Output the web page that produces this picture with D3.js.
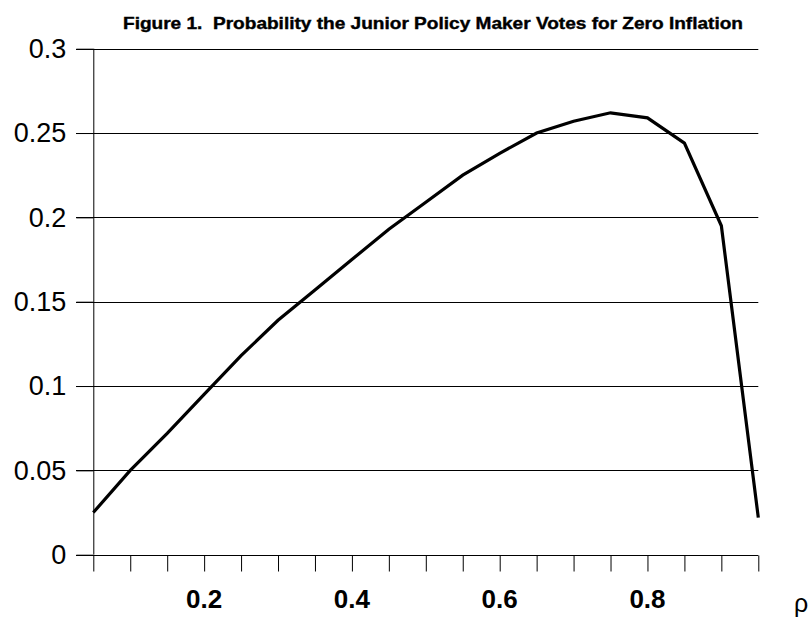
<!DOCTYPE html>
<html>
<head>
<meta charset="utf-8">
<script src="https://cdn.jsdelivr.net/npm/d3@7/dist/d3.min.js"></script>
<style>
  body { margin: 0; background: #fff; }
  svg { display: block; font-family: "Liberation Sans", Arial, sans-serif; }
</style>
</head>
<body>
<div id="container"></div>
<script>
const TITLE = "Figure 1.  Probability the Junior Policy Maker Votes for Zero Inflation";
const rho = [0.05, 0.10, 0.15, 0.20, 0.25, 0.30, 0.35, 0.40, 0.45, 0.50,
             0.55, 0.60, 0.65, 0.70, 0.75, 0.80, 0.85, 0.90, 0.95];
const prob = [0.025, 0.050, 0.072, 0.095, 0.118, 0.139, 0.157, 0.175, 0.193, 0.209,
              0.225, 0.238, 0.250, 0.257, 0.262, 0.259, 0.244, 0.195, 0.022];
const yTicks = [0, 0.05, 0.1, 0.15, 0.2, 0.25, 0.3];
const xLabels = [0.2, 0.4, 0.6, 0.8];

var drawChart = function () {
    var svg = d3.select("#container").append("svg")
        .attr("width", 812)
        .attr("height", 621);

    var x = d3.scaleLinear().domain([0.05, 0.95]).range([93.3, 758.3]);
    var y = d3.scaleLinear().domain([0, 0.3]).range([554.7, 48.7]);

    // title
    svg.append("text")
        .attr("x", 123)
        .attr("y", 28.5)
        .attr("font-size", 17)
        .attr("font-weight", "bold")
        .attr("stroke", "#000")
        .attr("stroke-width", 0.4)
        .attr("textLength", 620)
        .attr("lengthAdjust", "spacingAndGlyphs")
        .style("white-space", "pre")
        .text(TITLE);

    // gridlines
    svg.append("g")
        .selectAll("line")
        .data(yTicks.filter(function (d) { return d > 0; }))
        .join("line")
        .attr("x1", 76)
        .attr("x2", x(0.95))
        .attr("y1", function (d) { return Math.round(y(d)) + 0.5; })
        .attr("y2", function (d) { return Math.round(y(d)) + 0.5; })
        .attr("stroke", "#000")
        .attr("stroke-width", 1.2);

    // y axis
    var yAxis = d3.axisLeft(y)
        .tickValues(yTicks)
        .tickSize(17)
        .tickPadding(10)
        .tickFormat(function (d) { return d3.format("")(+d.toFixed(2)); });
    var gy = svg.append("g")
        .attr("transform", "translate(" + x(0.05) + ",0)")
        .call(yAxis);
    gy.select(".domain").attr("stroke", "#000").attr("d", "M0.5," + y(0.3) + "V" + y(0));
    gy.selectAll("line").attr("stroke", "#000");
    gy.selectAll("text")
        .attr("font-size", 27)
        .attr("font-family", "Liberation Sans, Arial, sans-serif")
        .attr("fill", "#000");

    // x axis
    var xAxis = d3.axisBottom(x)
        .tickValues(rho)
        .tickSize(16)
        .tickFormat("");
    var gx = svg.append("g")
        .attr("transform", "translate(0," + (Math.round(y(0)) + 0.5) + ")")
        .call(xAxis);
    gx.select(".domain").attr("stroke", "#000").attr("d", "M76,0H" + x(0.95));
    gx.selectAll("line").attr("stroke", "#000");

    svg.append("g")
        .selectAll("text")
        .data(xLabels)
        .join("text")
        .attr("x", function (d) { return x(d); })
        .attr("y", 608)
        .attr("text-anchor", "middle")
        .attr("font-size", 26)
        .attr("font-weight", "bold")
        .text(function (d) { return d3.format(".1f")(d); });

    svg.append("text")
        .attr("x", 794)
        .attr("y", 612)
        .attr("font-size", 25)
        .text("ρ");

    // curve
    var line = d3.line()
        .x(function (d, i) { return x(rho[i]); })
        .y(function (d) { return y(d); });
    svg.append("path")
        .datum(prob)
        .attr("fill", "none")
        .attr("stroke", "#000")
        .attr("stroke-width", 3.2)
        .attr("stroke-linejoin", "miter")
        .attr("d", line);
};

window.onload = drawChart;
</script>
</body>
</html>
